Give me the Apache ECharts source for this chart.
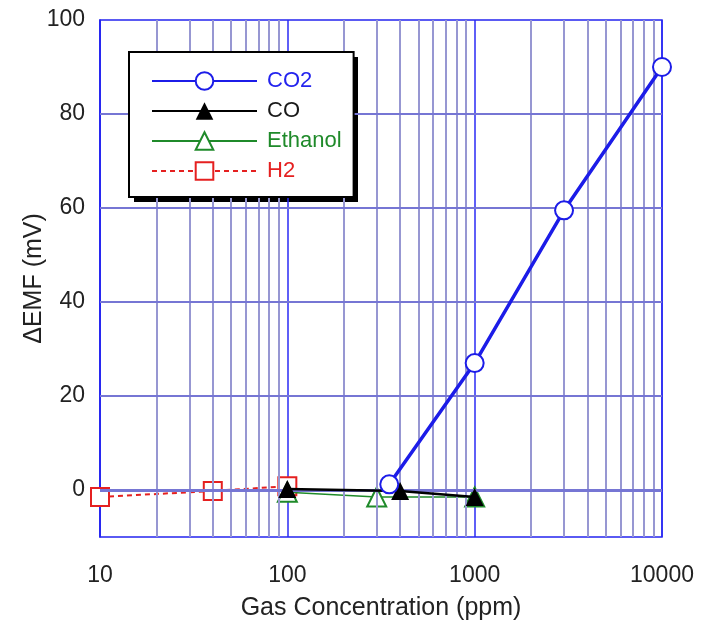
<!DOCTYPE html>
<html>
<head>
<meta charset="utf-8">
<script src="https://cdn.jsdelivr.net/npm/echarts@6/dist/echarts.min.js"></script>
<style>html,body{margin:0;padding:0;background:#fff}#c{width:701px;height:627px}</style>
</head>
<body>
<div id="c"></div>
<script>
const co2 = [[350, 1.2], [1000, 27], [3000, 59.5], [10000, 90]];
const co = [[100, 0.2], [400, -0.2], [1000, -1.5]];
const ethanol = [[100, -0.5], [300, -1.5], [1000, -1.5]];
const h2 = [[10, -1.5], [40, -0.2], [100, 0.8]];
const minorX = [20, 30, 40, 50, 60, 70, 80, 90, 200, 300, 400, 500, 600, 700, 800, 900, 2000, 3000, 4000, 5000, 6000, 7000, 8000, 9000];
const gridY = [0, 20, 40, 60, 80];
const yLabels = [0, 20, 40, 60, 80, 100];
const legendNames = ['CO2', 'CO', 'Ethanol', 'H2'];
const legendColors = ['#2424ee', '#1a1a1a', '#1f8a2a', '#e52020'];

const font = 'Liberation Sans, Arial, sans-serif';
const chart = echarts.init(document.getElementById('c'));
chart.setOption({
  animation: false,
  backgroundColor: '#fff',
  grid: { left: 100, right: 39, top: 20, bottom: 90, show: true, borderColor: '#2525f0', borderWidth: 1.5 },
  graphic: [{
    type: 'rect', z: 0, silent: true,
    shape: { x: 134, y: 57, width: 224, height: 145 },
    style: { fill: '#000' }
  }],
  xAxis: {
    type: 'log', logBase: 10, min: 10, max: 10000,
    name: 'Gas Concentration (ppm)', nameLocation: 'middle', nameGap: 59, nameMoveOverlap: false,
    nameTextStyle: { fontFamily: font, fontSize: 25, color: '#222' },
    axisLine: { lineStyle: { color: '#2525f0', width: 1.5 } },
    axisTick: { show: false },
    axisLabel: { fontFamily: font, fontSize: 23, color: '#222', margin: 27,
      formatter: v => String(Math.round(v)) },
    splitLine: { show: true, lineStyle: { color: '#2a2af5', width: 1.5 } }
  },
  yAxis: {
    type: 'value', min: -10, max: 100, interval: 10,
    name: 'ΔEMF (mV)', nameLocation: 'middle', nameGap: 53, nameMoveOverlap: false,
    nameTextStyle: { fontFamily: font, fontSize: 25, color: '#222' },
    axisLine: { lineStyle: { color: '#2525f0', width: 1.5 } },
    axisTick: { show: false },
    axisLabel: { fontFamily: font, fontSize: 23, color: '#222', margin: 15,
      formatter: v => yLabels.indexOf(v) >= 0 ? String(v) : '' },
    splitLine: { show: false }
  },
  legend: {
    orient: 'vertical', left: 129, top: 52, z: 10,
    data: legendNames.map((n, i) => ({ name: n, textStyle: { color: legendColors[i] } })),
    itemWidth: 105, itemHeight: 22, itemGap: 8,
    padding: [18, 12, 15, 22],
    backgroundColor: '#fff', borderColor: '#000', borderWidth: 2,
    textStyle: { fontFamily: font, fontSize: 22, lineHeight: 22, padding: [0, 0, 0, 5] }
  },
  series: [
    {
      name: 'grid', type: 'line', data: [], z: 1, silent: true,
      markLine: {
        silent: true, symbol: 'none', label: { show: false }, animation: false,
        data: minorX.map(v => ({ xAxis: v, lineStyle: { color: '#9797d2', width: 2, type: 'solid' } }))
          .concat(gridY.map(v => ({ yAxis: v, lineStyle: { color: '#7676d4', width: v === 0 ? 3 : 2, type: 'solid' } })))
      }
    },
    {
      name: 'H2', type: 'line', data: h2, z: 3,
      symbol: 'emptyRect', symbolSize: 18,
      itemStyle: { color: '#e52020', borderWidth: 1.5 },
      lineStyle: { color: '#e52020', width: 2, type: [5, 4] }
    },
    {
      name: 'Ethanol', type: 'line', data: ethanol, z: 4,
      symbol: 'emptyTriangle', symbolSize: 19,
      itemStyle: { color: '#1f8a2a', borderWidth: 1.5 },
      lineStyle: { color: '#1f8a2a', width: 1.5 }
    },
    {
      name: 'CO', type: 'line', data: co, z: 5,
      symbol: 'triangle', symbolSize: 18,
      itemStyle: { color: '#000' },
      lineStyle: { color: '#000', width: 2.5 }
    },
    {
      name: 'CO2', type: 'line', data: co2, z: 6,
      symbol: 'emptyCircle', symbolSize: 18,
      itemStyle: { color: '#1c1ce8', borderWidth: 1.5 },
      lineStyle: { color: '#1c1ce8', width: 3.5 }
    }
  ]
});
</script>
</body>
</html>
